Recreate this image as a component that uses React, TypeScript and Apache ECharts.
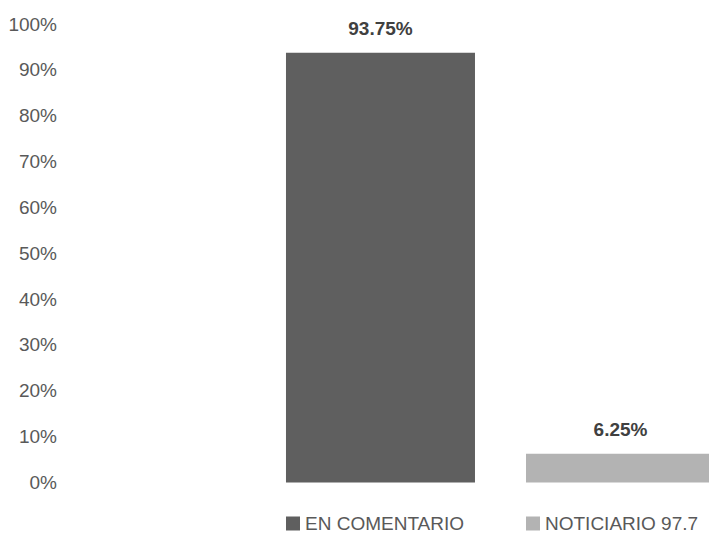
import React, { useEffect, useRef } from "react";
import * as echarts from "echarts";

const categories = [""];
const seriesNames = ["EN COMENTARIO", "NOTICIARIO 97.7"];
const seriesValues = [93.75, 6.25];
const seriesColors = ["#5f5f5f", "#b3b3b3"];
const yTicks = [0, 10, 20, 30, 40, 50, 60, 70, 80, 90, 100];

const FONT = "'Liberation Sans Narrow', 'Arial Narrow', 'Liberation Sans', Arial, sans-serif";

export default function App() {
  const ref = useRef<HTMLDivElement>(null);
  useEffect(() => {
    if (!ref.current) return;
    const chart = echarts.init(ref.current, undefined, { renderer: "svg" });
    const legendText = { fontFamily: FONT, fontSize: 19, lineHeight: 19, color: "#595959" };
    chart.setOption({
      animation: false,
      backgroundColor: "#ffffff",
      textStyle: { fontFamily: FONT },
      grid: { left: 292, right: 0, top: 24, bottom: 50.5, containLabel: false },
      legend: [
        {
          data: [seriesNames[0]],
          left: 286,
          top: 514,
          padding: 0,
          icon: "rect",
          itemWidth: 14,
          itemHeight: 14,
          textStyle: legendText,
        },
        {
          data: [seriesNames[1]],
          left: 526,
          top: 514,
          padding: 0,
          icon: "rect",
          itemWidth: 14,
          itemHeight: 14,
          textStyle: legendText,
        },
      ],
      xAxis: {
        type: "category",
        data: categories,
        show: false,
      },
      yAxis: {
        type: "value",
        min: yTicks[0],
        max: yTicks[yTicks.length - 1],
        interval: 10,
        axisLine: { show: false },
        axisTick: { show: false },
        splitLine: { show: false },
        axisLabel: {
          formatter: "{value}%",
          margin: 235,
          fontFamily: FONT,
          fontSize: 19,
          color: "#595959",
        },
      },
      series: seriesNames.map((name, i) => ({
        name,
        type: "bar",
        data: [seriesValues[i]],
        barWidth: 189,
        barGap: "27%",
        clip: false,
        itemStyle: { color: seriesColors[i] },
        label: {
          show: true,
          position: "top",
          distance: 15,
          formatter: (p: any) => `${p.value.toFixed(2)}%`,
          fontFamily: FONT,
          fontSize: 19,
          fontWeight: "bold",
          color: "#404040",
        },
      })),
    });
    return () => chart.dispose();
  }, []);
  return <div ref={ref} style={{ width: 709, height: 533, position: "absolute", left: 0, top: 0 }} />;
}
